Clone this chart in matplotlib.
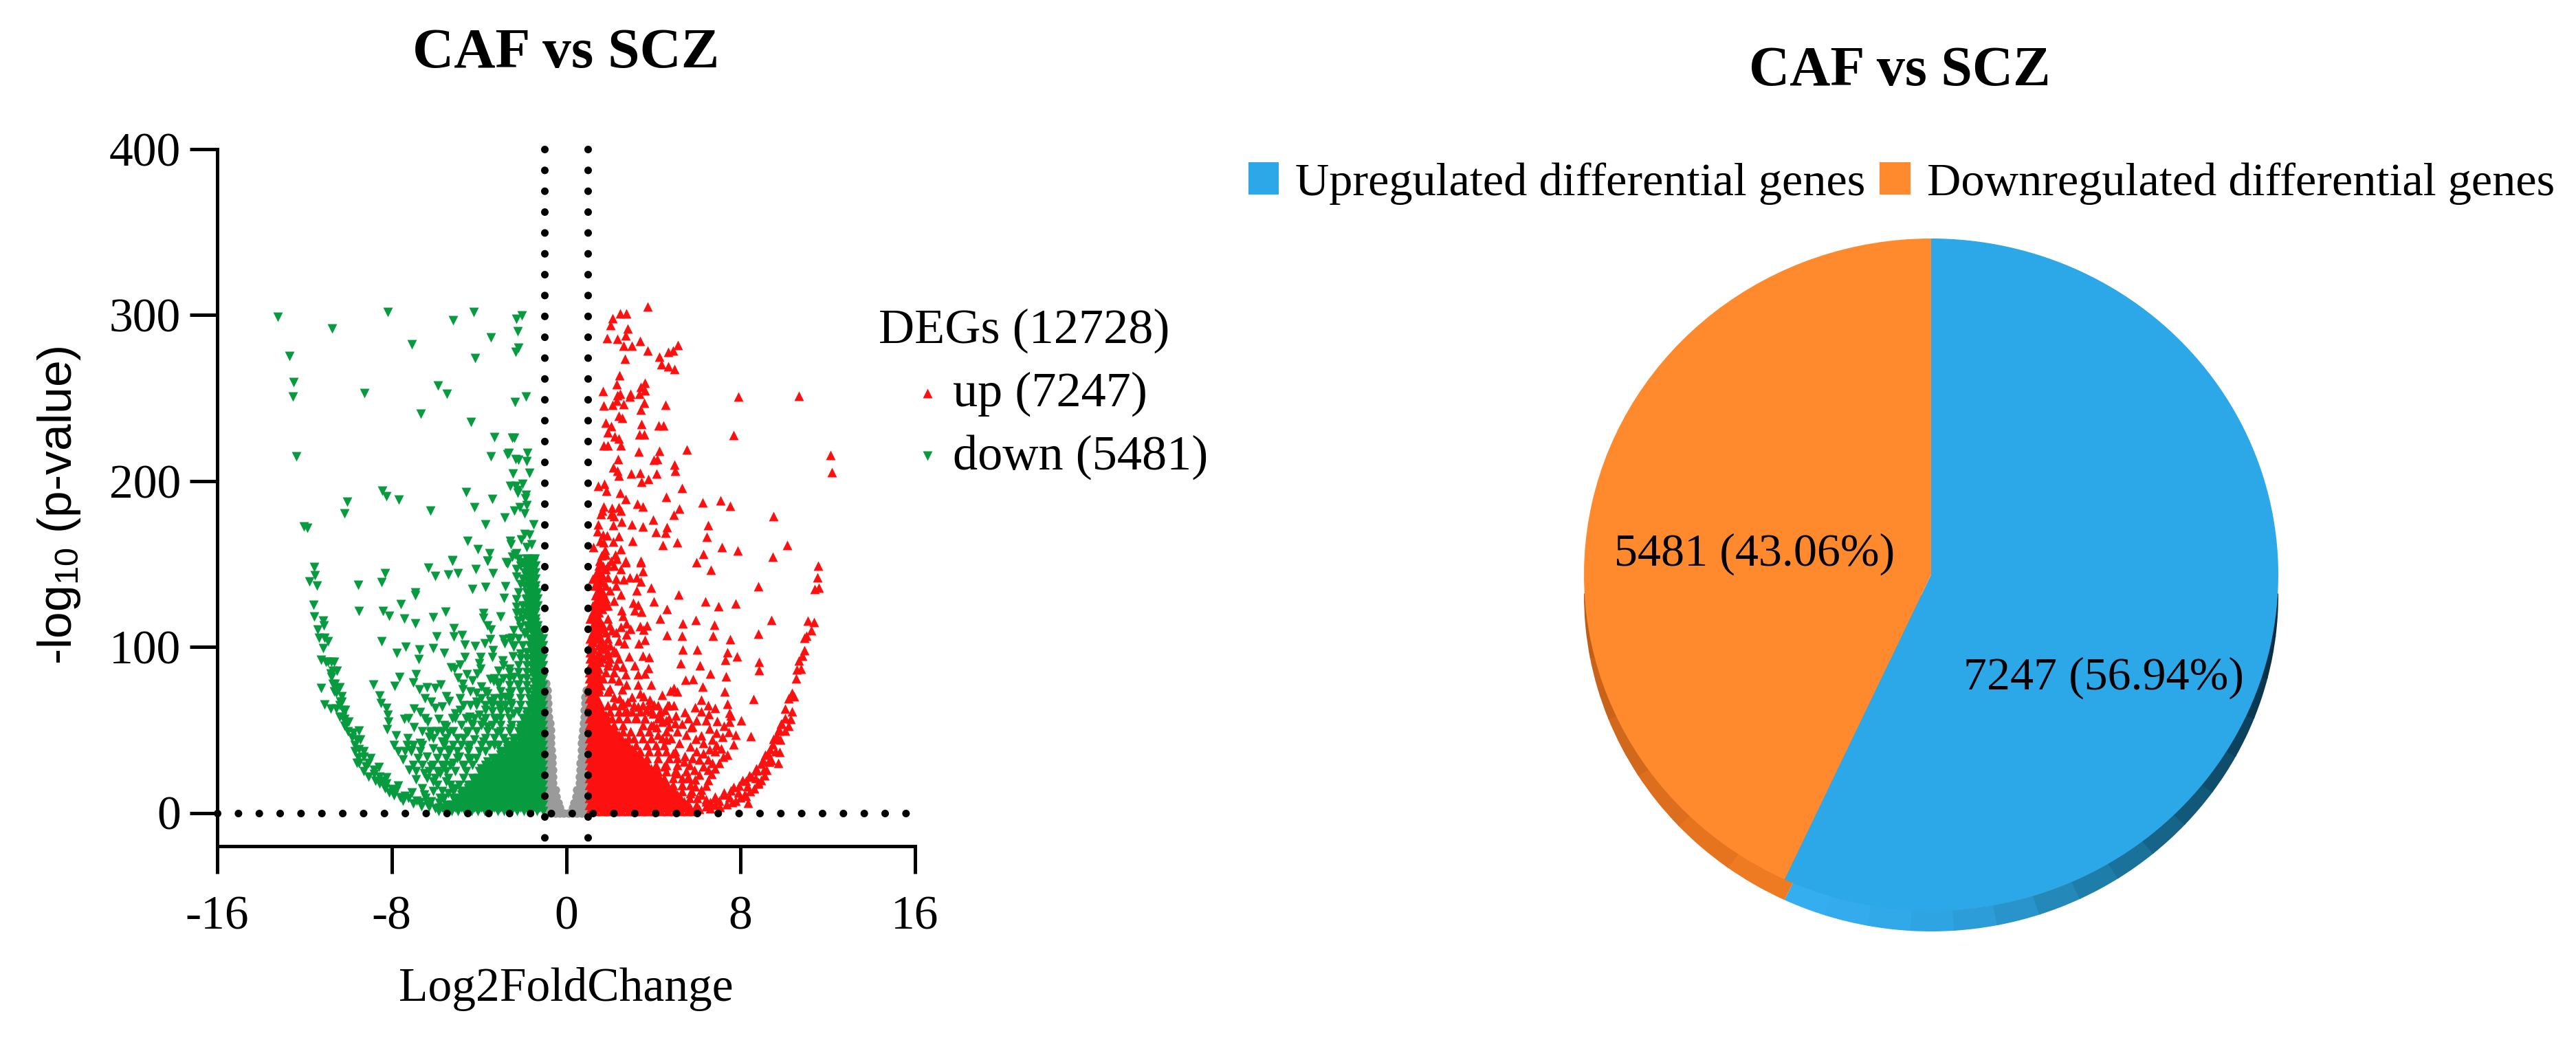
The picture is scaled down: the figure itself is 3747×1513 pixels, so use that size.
import matplotlib
matplotlib.use('Agg')
import matplotlib.pyplot as plt
from matplotlib.patches import Wedge

plt.rcParams['font.family'] = ['Liberation Serif']
plt.rcParams['mathtext.default'] = 'regular'

W, H = 3747, 1513

x_ticks = [-16, -8, 0, 8, 16]
x_tick_labels = ['-16', '-8', '0', '8', '16']
y_ticks = [0, 100, 200, 300, 400]
fc_cut = [-1, 1]
up_count = 7247
down_count = 5481
pie_labels = ['Upregulated differential genes', 'Downregulated differential genes']

# scattered up genes (log2fc, -log10p)
up_sparse = [(3.75,305.1),(2.46,301),(2.75,301),(2.12,298),(2.04,294),(2.83,291.8),(2.74,287.6),(1.88,286.2),
    (2.36,285.8),(3.40,284.4),(2.64,281.4),(3.01,281.4),(5.11,282),(4.90,278.6),(4.69,278),(3.75,278.6),
    (4.27,274.8),(2.71,273.5),(4.37,270.4),(4.67,269.2),(4.98,267.6),(2.45,263.7),(2.33,258.2),(3.62,259),
    (3.41,256.8),(3.62,254.8),(1.69,254.2),(2.46,252.7),(2.94,252.7),(3.35,252.4),(2.36,251.7),(2.93,251),
    (7.90,250.8),(10.67,251.3),(2.32,248.3),(3.59,247.2),(2.62,246.5),(2.12,245.8),(1.71,245.5),(4.55,245.8),
    (3.43,243.2),(2.41,239.3),(2.56,237.9),(1.82,235.2),(3.45,234.5),(2.06,233.1),(4.25,233.5),(4.46,233.5),
    (1.90,229.2),(3.37,228),(3.58,228.3),(7.68,227.6),(2.22,226.9),(2.42,225.5),(1.72,221.4),(1.90,221.4),
    (2.51,221.4),(3.32,217.6),(4.27,218.2),(5.53,218.9),(12.13,215.6),(2.37,213.1),(4.03,212.8),(4.17,213.1),
    (2.16,208.3),(4.95,210),(5.0,206.2),(12.19,205.5),(2.35,206.2),(2.40,203.4),(2.97,204.4),(3.40,205.1),
    (4.15,204.4),(3.45,199.7),(3.77,201),(1.47,197.2),(1.75,198.3),(1.83,194.2),(2.46,192.7),(5.30,195.8),
    (2.72,189.2),(4.59,190.3),(3.26,186.4),(3.52,184.5),(6.27,187.3),(7.09,188.5),(7.52,185.2),(1.73,184.8),
    (1.64,182.3),(1.58,179.9),(2.11,183.7),(2.06,179.9),(2.19,178.9),(2.40,184.1),(2.51,182),(5.19,183.4),
    (4.93,179.7),(9.49,178.9),(4.0,176.9),(1.47,173.8),(2.16,173.3),(2.53,175.6),(3.0,173.8),(3.5,172.7),
    (4.61,172.1),(6.52,173.5),(1.45,169.6),(4.11,169.3),(4.57,168.9),(1.68,167.5),(1.89,167.2),(2.41,166.9),
    (6.44,166.2),(1.56,163.7),(1.73,163.1),(2.15,163.4),(3.05,163.7),(4.43,161.3),(5.08,163),(10.15,161.3),
    (1.24,160.2),(1.77,158.6),(1.61,155.1),(1.82,155.8),(2.51,158.8),(2.24,155.8),(2.32,153),(7.14,160),
    (7.87,157.9),(6.30,156.1),(9.48,154.4),(1.54,151.7),(2.06,151.7),(2.74,151.7),(3.43,151.7),(5.98,151)]

up_mid = [(6.65,146.5),(11.56,149.2),(11.52,141.8),(11.58,135.8),(11.39,134.9),(8.8,136.5),(5.14,131.4),(6.39,127.5),
    (6.99,124.4),(7.76,126.2),(9.42,116.2),(11.08,115.8),(11.37,115.1),(11.25,110),(11.03,106.8),(10.93,105.5),
    (10.93,97.9),(10.82,94.8),(10.67,91.7),(10.77,86.8),(10.59,86.6),(10.54,81),(10.35,72.4),(10.46,70.3),
    (10.19,68.9),(10.03,62.7),(10.35,61.3),(10.3,56.5),(10.03,57.2),(9.8,36.7),(9.74,30.3),(9.33,31),
    (8.35,6.1),(8.24,10.3),(8.82,18.5),(4.3,117.2),(5.35,114.4),(5.95,116.1),(6.79,113.3),(4.61,107.3),
    (5.31,106.8),(6.74,106.8),(8.82,108),(7.53,104.5),(5.35,98.6),(6.01,98.3),(7.4,96.8),(7.85,94.4),
    (7.3,92.1),(8.85,91),(8.85,85.9),(5.26,90),(6.12,88.9),(6.6,84.1),(7.32,82.4),(5.47,80.4),(5.81,80.6),
    (6.25,76.2),(7.27,73.3),(8.59,68.6),(6.19,68.3),(7.4,65.9),(5.91,63.8),(6.52,64.8),(6.82,63.4),(6.19,61.3),
    (6.53,59.5),(7.5,60.3),(7.54,58.5),(6.4,55.8),(6.93,55.5),(8.01,55.8),(7.5,55.1),(7.24,52.3),(7.45,48.9),
    (6.56,51),(5.72,51.6),(5.98,55.8),(7.77,47.1),(8.45,46.1),(7.16,45.7),(6.88,48.2),(6.19,46.8),(5.93,44.7),
    (6.56,38.5),(6.82,37.2),(7.67,41.3),(7.4,35.1),(7.19,33.7),(7.03,30.3),(6.82,26.8),(6.66,23.4),(6.51,19.9),
    (6.4,16.5),(5.98,37.2),(6.09,32.3),(5.66,28.9),(5.87,26.1),(5.45,34.4),(2.72,151),(3.43,151),(3.5,145.5),
    (2.27,141.3),(2.64,140.7),(2.91,142),(3.22,142),(3.43,139.3),(3.9,135.8),(3.22,134),(2.5,131.7),(4.01,127.5),
    (3.06,126.6),(3.3,125.5),(3.14,122),(3.45,121.3),(4.63,123),(2.53,122),(2.61,118.6),(2.77,114.4),(2.95,111),
    (3.4,112.4),(3.72,113),(3.56,110.6),(3.61,104.4),(3.33,102.3),(2.77,107.5),(2.66,102),(3.5,94.7),(3.8,94),
    (2.87,94.4),(3.14,88.9),(3.77,87.3),(3.61,84.1),(3.3,83.7),(2.72,83.4),(2.77,77.2),(3.3,77.5),(3.9,77.5),
    (2.56,74.4),(4.93,75.1),(4.77,73.7),(5.09,73.3),(4.4,71),(3.56,70.3),(2.45,68.9),(2.82,66.8),(3.3,64.1),
    (3.82,68.2),(4.03,65.4),(3.66,62),(4.66,64.8),(4.93,64.8),(4.51,62),(5.45,60.9),(4.35,57.9),(5.03,58.5),
    (4.14,51.6),(5.3,53.7)]

# more of the loose triangles around the dense part
up_loose = [(4.4,55),(4.7,52),(5.1,49),(5.5,47),(4.6,44),(5.2,42),(5.7,40),(4.9,36),(5.4,31),(5.8,33),(4.5,28),(5.1,24),
    (5.6,22),(5.9,20),(5.3,17),(5.7,12),(6.0,9),(6.2,11),(6.2,14),(5.9,16),(6.1,23),(6.3,28),(6.5,32),(6.3,42),(6.7,44),
    (6.9,41),(7.1,39),(6.3,36),(6.7,30),(6.5,26),(4.2,47),(4.0,53),(3.2,58),(2.6,66),(2.2,70),(2.0,75),(2.4,80),(2.6,88),
    (2.2,98),(2.4,104),(2.1,110),(2.5,112),(1.9,125),(2.2,128),(2.0,134),(2.3,137),(1.9,142),(1.8,147),(2.5,147),(3.0,70),
    (3.4,72),(2.8,61),(3.6,57),(4.0,60),(4.6,56),(5.0,54),(5.6,57),(5.8,52)]

# the thin right-hand arc of the volcano
up_band = [(9.88,53.7),(9.85,53.7),(9.77,50.3),(9.67,46.1),(9.51,44.7),(9.35,38.5),(9.14,35.1),(8.93,29.6),(8.72,25.4),
    (8.51,22),(8.24,19.2),(7.93,16.5),(7.56,13.7),(7.24,10.9),(6.82,8.9),(6.4,6.8),(5.98,4.7),(6.4,8.2),(6.82,9.8),
    (7.24,12.3),(7.67,15.8),(8.09,19.9),(8.4,22.7),(8.72,26.8),(9.04,31.6),(9.25,35.8),(9.46,41.3),(9.61,45.4),
    (9.77,49.6),(6.4,4.1),(6.82,4.7),(7.35,5.4),(7.77,7.5),(8.19,11),(8.61,15),(8.93,19.9),(9.19,26.1),(9.4,31.6),
    (9.61,37.2),(9.82,44.1),(10.03,49.6),(10.19,52.3),(6.6,6.5),(7.0,7.5),(7.5,9.5),(7.9,12.5),(8.3,16),(8.7,21),
    (9.05,26),(9.3,31),(6.1,2.5),(6.6,2.8),(7.05,3.6),(7.6,6.4),(8.0,9.3),(8.42,13),(8.8,17.5),(9.1,22.5)]

# dense part of the up genes, row by row
up_rows_y = [1, 5, 9, 13, 17, 21, 25, 29, 33, 37, 41, 45, 49, 53, 57, 61, 65, 69, 73, 77, 81, 85, 89, 93, 97, 101,
    105, 109, 113, 117, 121, 125, 129, 133, 137, 141, 145, 149]
up_rows_x = [
    [1.05,1.35,1.65,1.95,2.25,2.55,2.85,3.15,3.45,3.75,4.05,4.35,4.65,4.95,5.25,5.55,5.85],
    [1.05,1.35,1.65,1.95,2.25,2.55,2.85,3.15,3.45,3.75,4.05,4.35,4.65,4.95,5.25,5.6],
    [1.05,1.35,1.65,1.95,2.25,2.55,2.85,3.15,3.45,3.75,4.05,4.35,4.65,4.95,5.25,5.65],
    [1.05,1.35,1.65,1.95,2.25,2.55,2.85,3.15,3.45,3.75,4.05,4.35,4.65,4.95,5.3,5.75],
    [1.05,1.35,1.65,1.95,2.25,2.55,2.85,3.15,3.45,3.75,4.05,4.35,4.65,4.9,5.3,5.7],
    [1.05,1.35,1.65,1.95,2.25,2.55,2.85,3.15,3.45,3.75,4.05,4.3,4.5,4.9,5.3,5.6],
    [1.05,1.35,1.65,1.95,2.25,2.55,2.85,3.15,3.45,3.75,4.05,4.2,4.6,5.0,5.5],
    [1.05,1.35,1.65,1.95,2.25,2.55,2.85,3.15,3.45,3.75,4.1,4.6,5.1],
    [1.05,1.35,1.65,1.95,2.25,2.55,2.85,3.15,3.45,3.7,4.2,4.7,5.1],
    [1.05,1.35,1.65,1.95,2.25,2.55,2.85,3.15,3.4,3.8,4.2,4.6,5.0],
    [1.05,1.35,1.65,1.95,2.25,2.55,2.85,3.2,3.7,4.1,4.5],
    [1.05,1.35,1.65,1.95,2.25,2.55,2.85,3.1,3.5,3.9,4.4,4.8],
    [1.05,1.35,1.65,1.95,2.25,2.6,2.95,3.4,3.8,4.6],
    [1.05,1.35,1.65,1.95,2.2,2.6,3.5,3.9],
    [1.05,1.35,1.65,1.9,2.1,2.4,2.8,3.2,3.6,4.2,4.7],
    [1.05,1.35,1.65,2.0,2.4,2.7,3.0,3.4,3.9,4.3],
    [1.05,1.35,1.6,1.9,2.2,2.5,3.1,3.5,3.8,4.2,4.7],
    [1.05,1.3,1.45],
    [1.05,1.3,1.5,1.9],
    [1.05,1.3,1.6],
    [1.05,1.35,1.7,2.1],
    [1.05,1.35,1.8,2.2],
    [1.1,1.4,1.9,2.3],
    [1.1,1.4,1.7,2.0,2.4],
    [1.1,1.5,1.9,2.3],
    [1.1,1.5,1.8,2.0],
    [1.1,1.35,1.6,1.9],
    [1.2,1.5,1.8,2.3],
    [1.2,1.4,1.7,2.0],
    [1.1,1.3,1.5,1.9],
    [1.2,1.5],
    [1.2,1.5,1.8],
    [1.5,1.8],
    [1.4,1.7],
    [1.3,1.5,1.8],
    [1.2,1.5],
    [1.4,1.6],
    [1.5,1.7,1.9,2.2],
]
# second pass between those rows, closes the gaps in the solid area
up_fill_y = [3, 7, 11, 15, 19, 23, 27, 31, 35, 39, 43, 47, 51, 55, 59, 63, 67, 71, 75, 79, 83, 87, 91, 95, 99, 103, 107,
    111, 115, 119, 123, 127, 131, 135, 139, 143, 147]
up_fill_x = [
    [1.2,1.5,1.8,2.1,2.4,2.7,3.0,3.3,3.6,3.9,4.2,4.5,4.8,5.1,5.4,5.7,6.0],
    [1.2,1.5,1.8,2.1,2.4,2.7,3.0,3.3,3.6,3.9,4.2,4.5,4.8,5.1,5.4],
    [1.2,1.5,1.8,2.1,2.4,2.7,3.0,3.3,3.6,3.9,4.2,4.5,4.8,5.1],
    [1.2,1.5,1.8,2.1,2.4,2.7,3.0,3.3,3.6,3.9,4.2,4.5,4.8],
    [1.2,1.5,1.8,2.1,2.4,2.7,3.0,3.3,3.6,3.9,4.2,4.5],
    [1.2,1.5,1.8,2.1,2.4,2.7,3.0,3.3,3.6,3.9,4.2],
    [1.2,1.5,1.8,2.1,2.4,2.7,3.0,3.3,3.6,3.9],
    [1.2,1.5,1.8,2.1,2.4,2.7,3.0,3.3,3.6],
    [1.2,1.5,1.8,2.1,2.4,2.7,3.0,3.3],
    [1.2,1.5,1.8,2.1,2.4,2.7,3.0],
    [1.2,1.5,1.8,2.1,2.4,2.7],
    [1.2,1.5,1.8,2.1,2.4],
    [1.2,1.5,1.8,2.1],
    [1.2,1.5,1.8],
    [1.2,1.5,1.8],
    [1.2,1.5],
    [1.2,1.5],
    [1.2],
    [1.2,1.5],
    [1.2,1.5],
    [1.2,1.5],
    [1.2,1.5],
    [1.25,1.55,1.95],
    [1.25,1.55,1.85],
    [1.25,1.7],
    [1.25,1.6],
    [1.25,1.5],
    [1.35,1.65],
    [1.3,1.55],
    [1.2,1.4],
    [1.35,1.65],
    [1.35,1.65],
    [1.35,1.65],
    [1.55],
    [1.4,1.65],
    [1.35,1.65],
    [1.5],
]

down_sparse = [(-13.24,298.9),(-8.19,301.7),(-10.73,291.8),(-5.20,296.9),(-4.25,301.7),(-2.30,297.5),(-2.02,299.8),
    (-2.21,290.4),(-3.46,286.5),(-7.09,282.4),(-12.69,275.5),(-4.17,274.2),(-2.33,278),(-2.18,280.3),(-12.49,259.7),
    (-12.52,251),(-9.24,252.8),(-5.88,257.5),(-5.47,252.7),(-1.83,250.8),(-2.34,247.6),(-6.67,240.6),(-4.37,235.6),
    (-3.3,226.6),(-2.49,226.2),(-2.39,226.2),(-12.37,214.9),(-3.44,214.9),(-2.63,216.8),(-2.7,216.3),(-1.79,217),
    (-2.33,213.1),(-2.2,212.7),(-1.81,212),(-2.44,204.4),(-1.7,205.1),(-2.57,197),(-2.31,197.2),(-2,198.3),
    (-2.23,194.5),(-2.21,192.7),(-1.86,191.7),(-1.89,189.6),(-8.44,194.2),(-8.23,191),(-7.69,188.7),(-4.6,193.3),
    (-3.38,189.2),(-10.04,187.6),(-10.17,180.4),(-6.23,182),(-4.2,184.4),(-2.39,182.3),(-2.14,184.4),(-1.81,185.5),
    (-1.91,180.6),(-2.83,177.9),(-12.02,172.4),(-11.86,171.7),(-3.7,173.8),(-1.49,173.8),(-4.51,163.7),(-4.04,158.9),
    (-2.57,164.1),(-2.54,162),(-2.07,164.8),(-1.91,168),(-1.7,167.5),(-1.6,162),(-1.81,160),(-3.51,156.5),
    (-2.49,154.4),(-2.28,156.5),(-5.23,152.4),(-3.6,152),(-2.75,151),(-1.75,153),(-1.44,153)]

down_mid = [(-11.57,148.3),(-11.52,143),(-11.79,139.3),(-11.44,136.8),(-9.55,137.5),(-8.32,144.4),(-8.47,138.9),
    (-6.31,147.6),(-6.02,142.7),(-5.42,143.7),(-4.95,144.4),(-5.22,152.1),(-4.16,146.9),(-3.6,152.1),(-3.36,144.5),
    (-4.31,135.1),(-3.71,136.2),(-2.78,136.5),(-2.28,142.3),(-2.7,150.3),(-2.34,155.8),(-6.92,132.7),(-6.92,131),
    (-2.84,129.6),(-2.3,128.9),(-1.86,128.9),(-11.6,125.5),(-9.5,121.6),(-8.41,121.6),(-8.13,118.6),(-7.57,125.8),
    (-7.44,116.9),(-6.93,114.4),(-6.1,117.9),(-5.53,121.3),(-11.57,118.2),(-11.15,115.8),(-11.1,113),(-11.39,110.3),
    (-11.34,105.5),(-11.08,105.5),(-10.92,103.4),(-11.13,99.3),(-8.47,103.4),(-3.79,120.6),(-3.81,117.5),(-3.6,113),
    (-3.02,118.3),(-2.28,120.6),(-2.18,115.8),(-5.16,111.3),(-5.16,106.4),(-4.78,107.1),(-5.94,106.4),(-3.44,110.3),
    (-4.65,101.3),(-4.19,100.6),(-3.73,102),(-3.49,104.8),(-2.88,104.5),(-2.81,102),(-2.49,105.5),(-7.37,100),
    (-7.77,96.2),(-6.74,98.3),(-6.76,92.6),(-6.11,99.3),(-5.6,96.5),(-4.65,93.7),(-3.36,97.9),(-3.91,94),(-2.44,94.4),
    (-4.86,89.2),(-5.28,87.5),(-5.13,86.8),(-3.91,86.8),(-4.07,84.1),(-3.39,93.7),(-2.92,91.9),(-2.6,86.8),(-3.12,85.5),
    (-7.65,82),(-6.89,83.4),(-7.02,78.6),(-7.86,76.5),(-8.83,77.2),(-11.25,75.1),(-4.97,81.3),(-4.55,83.4),(-4.76,77.9),
    (-5.76,77.2),(-6.39,75.8),(-6.02,75.1),(-6.74,74.4),(-3.34,79.3),(-3.49,80.6),(-3.07,78.6),(-2.23,77.2),(-2.6,72.3),
    (-4.13,72.3),(-4.76,74.4),(-8.57,70.7),(-8.5,66.1),(-8.23,63.4),(-8.18,59.2),(-8.16,55.1),(-8.2,50.3),(-11.08,65.4),
    (-10.81,62.7),(-10.55,62.7),(-6.49,68.9),(-6.18,66.8),(-6.02,63.4),(-5.49,70.3),(-5.39,67.5),(-4.86,68.9),(-5.7,64.1),
    (-4.13,66.8),(-3.49,67.5),(-4.86,62),(-6.97,62.7),(-6.71,60.6),(-7.44,56.5),(-7.23,57.2),(-6.49,57.2),(-5.86,56.5),
    (-5.23,57.2),(-6.97,51.6),(-6.34,55.1),(-4.44,57.8),(-3.71,62),(-2.97,64.8),(-2.55,66.1),(-4.34,53.7),(-3.81,55.1),
    (-5.39,48.2),(-4.55,48.2),(-6.23,48.2),(-7.81,46.5),(-7.28,45.2),(-3.18,48.2),(-2.55,51)]

down_loose = [(-4.2,44),(-4.5,40),(-4.9,34),(-5.3,38),(-5.7,43),(-6.1,39),(-6.4,34),(-6.2,28),(-5.8,24),(-5.5,19),(-5.1,15),
    (-5.4,12),(-5.8,9),(-6.2,7),(-6.6,15),(-6.9,20),(-7.2,26),(-7.5,32),(-7.7,37),(-7.9,41),(-6.7,42),(-6.3,46),(-3.6,52),
    (-3.2,57),(-4.0,59),(-4.7,65),(-5.1,60),(-5.5,52),(-5.9,49),(-6.6,49),(-7.1,38),(-6.5,24),(-6.1,19),(-6.5,11),(-5.2,30),
    (-5.6,28),(-4.7,28),(-4.4,32),(-3.8,43),(-3.3,41),(-2.8,43),(-2.4,60),(-2.8,70),(-2.4,82),(-2.1,96),(-2.4,100),
    (-1.9,108),(-2.1,112),(-2.4,110),(-2.3,124),(-2.2,133),(-2.1,138),(-2.3,147),(-3.6,72),(-3.9,76),(-4.3,80),(-4.0,90)]

# the thin left-hand arc
down_band = [(-11.23,92.4),(-10.92,91),(-10.76,91),(-10.71,85.5),(-10.76,82),(-10.6,77.9),(-10.5,74.4),(-10.55,72.3),
    (-10.29,66.8),(-10.23,62),(-10.18,56.5),(-10.07,53.7),(-9.76,48.2),(-9.6,44.1),(-9.5,38.5),(-9.29,33.7),(-9.07,30.3),
    (-8.81,26.1),(-8.55,22),(-8.23,17.8),(-7.81,13.7),(-7.39,10.4),(-6.86,7.5),(-6.34,5.4),(-5.81,3.3),(-5.81,6.1),
    (-6.44,8.9),(-7.07,12.3),(-7.71,16.5),(-8.23,21.3),(-8.6,27.5),(-8.97,33),(-9.29,37.2),(-9.44,44.1),(-9.5,49.6),
    (-9.97,55.1),(-10.13,62),(-10.29,70.3),(-10.39,75.8),(-10.5,85.5),(-10.65,91),(-6.02,2.6),(-6.65,4),(-7.5,7.5),
    (-8.13,12.3),(-8.55,17.8),(-9.07,22),(-9.5,30.3),(-9.71,37.2),(-9.81,45.4),(-10.18,52.3),(-10.39,57.8),(-10.39,64.8),
    (-10.65,73),(-10.71,77.9),(-10.81,84.1),(-11.02,91),(-6.3,3.8),(-7.0,5.8),(-7.6,9.5),(-8.0,14.5),(-8.4,19.5),(-8.8,23.5),
    (-9.2,28),(-9.55,33.5),(-9.7,41),(-10.0,49),(-10.25,58),(-10.35,67),(-6.7,6.5),(-7.25,9.2),(-7.9,10.5),(-8.3,15),
    (-8.75,19.5),(-9.3,25),(-9.6,30)]

down_rows_y = [1, 5, 9, 13, 17, 21, 25, 29, 33, 37, 41, 45, 49, 53, 57, 61, 65, 69, 73, 77, 81, 85, 89, 93, 97, 101,
    105, 109, 113, 117, 121, 125, 129, 133, 137, 141, 145, 149, 153]
down_rows_x = [
    [-1.05,-1.35,-1.65,-1.95,-2.25,-2.55,-2.85,-3.15,-3.45,-3.75,-4.05,-4.35,-4.65,-4.95,-5.25,-5.55,-5.85],
    [-1.05,-1.35,-1.65,-1.95,-2.25,-2.55,-2.85,-3.15,-3.45,-3.75,-4.05,-4.35,-4.65,-4.95,-5.25,-5.5],
    [-1.05,-1.35,-1.65,-1.95,-2.25,-2.55,-2.85,-3.15,-3.45,-3.75,-4.05,-4.35,-4.65,-4.95,-5.2,-5.6],
    [-1.05,-1.35,-1.65,-1.95,-2.25,-2.55,-2.85,-3.15,-3.45,-3.75,-4.05,-4.35,-4.65,-4.8,-5.2,-5.7,-6.1],
    [-1.05,-1.35,-1.65,-1.95,-2.25,-2.55,-2.85,-3.15,-3.45,-3.75,-4.05,-4.3,-4.5,-4.9,-5.3,-5.9],
    [-1.05,-1.35,-1.65,-1.95,-2.25,-2.55,-2.85,-3.15,-3.45,-3.75,-4.05,-4.3,-4.7,-5.4,-6.0,-6.4],
    [-1.05,-1.35,-1.65,-1.95,-2.25,-2.55,-2.85,-3.15,-3.45,-3.75,-4.0,-4.6,-5.1,-5.5,-5.9,-6.3,-6.9],
    [-1.05,-1.35,-1.65,-1.95,-2.25,-2.55,-2.85,-3.15,-3.45,-3.7,-4.3,-4.7,-5.3,-5.7,-6.1,-6.6,-7.0],
    [-1.05,-1.35,-1.65,-1.95,-2.25,-2.55,-2.85,-3.15,-3.4,-4.1,-4.5,-5.0,-5.5,-5.9,-6.8],
    [-1.05,-1.35,-1.65,-1.95,-2.25,-2.55,-2.8,-3.0,-3.7,-4.0,-4.5,-5.0,-5.4,-5.8,-6.7,-7.1,-7.4],
    [-1.05,-1.35,-1.65,-1.95,-2.25,-2.6,-3.1,-3.5,-3.9,-4.4,-4.8,-5.2,-5.6,-6.6,-7.0,-7.3],
    [-1.05,-1.35,-1.65,-1.95,-2.2,-2.4,-2.9,-3.3,-3.7,-4.7,-5.0,-5.5,-6.1],
    [-1.05,-1.35,-1.65,-1.95,-2.2,-2.6,-3.0,-3.6,-4.1,-4.5,-5.2,-5.7,-6.2],
    [-1.05,-1.35,-1.65,-1.9,-2.1,-2.5,-3.0,-3.4,-3.9,-4.3,-4.8,-5.6],
    [-1.05,-1.35,-1.65,-1.85,-2.0,-2.6,-3.0,-3.3,-3.7,-4.2,-4.6,-5.1],
    [-1.05,-1.35,-1.6,-1.8,-2.2,-2.7,-3.0,-3.4],
    [-1.05,-1.35,-1.7,-2.1,-2.5,-2.8,-3.1,-3.4,-3.7,-4.1,-4.4],
    [-1.05,-1.35,-1.7,-2.1,-2.6,-3.0,-3.3,-3.9],
    [-1.05,-1.35,-1.75,-2.1,-2.5,-3.0,-3.7,-4.4],
    [-1.05,-1.35,-1.8,-2.2,-2.6,-3.1],
    [-1.05,-1.35,-1.8,-2.1,-2.6,-2.9,-3.3],
    [-1.05,-1.35,-1.6,-1.8,-2.2,-2.6],
    [-1.05,-1.35,-1.6,-1.8,-2.2,-2.9],
    [-1.05,-1.35,-1.6,-1.8,-2.1],
    [-1.05,-1.35,-1.6,-1.8],
    [-1.05,-1.35,-1.7,-2.0,-2.4],
    [-1.05,-1.35,-1.7,-2.2,-2.6],
    [-1.2,-1.5,-1.8],
    [-1.3,-1.5,-1.8],
    [-1.4,-1.7,-2.0],
    [-1.4,-1.6,-1.9,-2.1],
    [-1.3,-1.5,-1.8,-2.0],
    [-1.3,-1.5,-1.8],
    [-1.3,-1.6,-1.8],
    [-1.4,-1.6,-1.9],
    [-1.4,-1.7,-2.0],
    [-1.4,-1.7,-1.9],
    [-1.4,-1.6,-1.9,-2.1],
    [-1.5,-1.8,-2.2],
]
down_fill_y = [3, 7, 11, 15, 19, 23, 27, 31, 35, 39, 43, 47, 51, 55, 59, 63, 67, 71, 75, 79, 83, 87, 91, 95, 99, 103, 107,
    111, 115, 119, 123, 127, 131, 135, 139, 143, 147, 151]
down_fill_x = [
    [-1.2,-1.5,-1.8,-2.1,-2.4,-2.7,-3.0,-3.3,-3.6,-3.9,-4.2,-4.5,-4.8,-5.1,-5.4,-5.7],
    [-1.2,-1.5,-1.8,-2.1,-2.4,-2.7,-3.0,-3.3,-3.6,-3.9,-4.2,-4.5,-4.8,-5.1],
    [-1.2,-1.5,-1.8,-2.1,-2.4,-2.7,-3.0,-3.3,-3.6,-3.9,-4.2,-4.5,-4.8],
    [-1.2,-1.5,-1.8,-2.1,-2.4,-2.7,-3.0,-3.3,-3.6,-3.9,-4.2,-4.5],
    [-1.2,-1.5,-1.8,-2.1,-2.4,-2.7,-3.0,-3.3,-3.6,-3.9,-4.2],
    [-1.2,-1.5,-1.8,-2.1,-2.4,-2.7,-3.0,-3.3,-3.6,-3.9],
    [-1.2,-1.5,-1.8,-2.1,-2.4,-2.7,-3.0,-3.3,-3.6,-3.9],
    [-1.2,-1.5,-1.8,-2.1,-2.4,-2.7,-3.0,-3.3,-3.6],
    [-1.2,-1.5,-1.8,-2.1,-2.4,-2.7,-3.0],
    [-1.2,-1.5,-1.8,-2.1,-2.4,-2.7],
    [-1.2,-1.5,-1.8,-2.1,-2.4],
    [-1.2,-1.5,-1.8,-2.1],
    [-1.2,-1.5,-1.8,-2.1],
    [-1.2,-1.5,-1.8],
    [-1.2,-1.5,-1.8],
    [-1.2,-1.5],
    [-1.2,-1.5],
    [-1.2,-1.5],
    [-1.2,-1.5],
    [-1.2,-1.5],
    [-1.2,-1.5],
    [-1.2,-1.5],
    [-1.2,-1.5],
    [-1.2,-1.5],
    [-1.2,-1.5],
    [-1.2,-1.5],
    [-1.2,-1.5],
    [-1.35,-1.65],
    [-1.4,-1.65],
    [-1.55,-1.85],
    [-1.5,-1.75],
    [-1.4,-1.65],
    [-1.4,-1.65],
    [-1.45,-1.7],
    [-1.5,-1.75],
    [-1.55,-1.85],
    [-1.55,-1.8],
    [-1.5,-1.75,-2.0],
]

# genes that did not pass the cut, grey funnel in the middle
ns_rows_y = [0, 3, 6, 10, 14, 18, 22, 26, 30, 34, 38, 42, 46, 50, 54, 58, 62, 66, 70, 74, 78]
ns_rows_x = [
    [-0.9,-0.7,-0.5,-0.3,-0.1,0.1,0.3,0.5,0.7,0.9],
    [-0.9,-0.7,-0.5,-0.3,0.3,0.5,0.7,0.9],
    [-0.9,-0.7,-0.5,-0.35,0.35,0.5,0.7,0.9],
    [-0.9,-0.75,-0.55,-0.45,0.45,0.55,0.75,0.9],
    [-0.9,-0.75,-0.55,-0.5,0.5,0.6,0.75,0.9],
    [-0.9,-0.75,-0.6,0.6,0.75,0.9],
    [-0.9,-0.75,-0.6,0.6,0.75,0.9],
    [-0.9,-0.75,-0.62,0.65,0.8,0.9],
    [-0.9,-0.75,-0.65,0.65,0.8,0.9],
    [-0.9,-0.8,-0.65,0.7,0.8,0.9],
    [-0.9,-0.8,-0.68,0.72,0.85,0.92],
    [-0.9,-0.8,-0.7,0.72,0.85,0.92],
    [-0.9,-0.8,-0.7,0.75,0.85,0.92],
    [-0.9,-0.8,-0.72,0.78,0.85,0.92],
    [-0.9,-0.8,-0.75,0.8,0.9],
    [-0.9,-0.8,0.82,0.9],
    [-0.9,-0.82,0.85,0.92],
    [-0.92,-0.85,0.88,0.94],
    [-0.92,-0.86,0.88,0.94],
    [-0.94,-0.88,0.92],
    [-0.94],
]

# rim colours, going round from the blue/orange boundary to the right edge
pie_side_shades_blue = ['#35aef0', '#33abec', '#31a8e8', '#2fa4e2', '#2c9dd8', '#2994cb', '#2489b9', '#1f7ea9',
                        '#1a7199', '#166589', '#125879', '#0f4d6b', '#0c425d', '#0a3850', '#083045', '#082b3e']
pie_side_shades_orange = ['#ee7a22', '#e6741f', '#dc6e1d', '#d2681c', '#c9631a', '#c05e19']


def flatten_rows(rows_y, rows_x):
    xs, ys = [], []
    for y, row in zip(rows_y, rows_x):
        for x in row:
            xs.append(x)
            ys.append(y)
    return xs, ys


def split_points(*groups):
    xs, ys = [], []
    for g in groups:
        for p in g:
            xs.append(p[0])
            ys.append(p[1])
    return xs, ys


fig = plt.figure(figsize=(W / 100, H / 100), dpi=100)

# volcano plot
ax = fig.add_axes([316 / W, 1 - 1231 / H, (1331 - 316) / W, (1231 - 217) / H])
ax.set_xlim(-16, 16)
ax.set_ylim(-20, 400)

ns_x, ns_y = flatten_rows(ns_rows_y, ns_rows_x)
ax.scatter(ns_x, ns_y, marker='o', s=80, color='#9a9a9a', linewidths=0, zorder=2)

up_x, up_y = flatten_rows(up_rows_y, up_rows_x)
fx, fy = flatten_rows(up_fill_y, up_fill_x)
bx, by = split_points(up_sparse, up_mid, up_loose, up_band)
ups = ax.scatter(up_x + fx + bx, up_y + fy + by, marker='^', s=100, color='#fd1010', linewidths=0, zorder=3,
                 label='up (%d)' % up_count)
dn_x, dn_y = flatten_rows(down_rows_y, down_rows_x)
fx, fy = flatten_rows(down_fill_y, down_fill_x)
bx, by = split_points(down_sparse, down_mid, down_loose, down_band)
downs = ax.scatter(dn_x + fx + bx, dn_y + fy + by, marker='v', s=100, color='#079a3f', linewidths=0, zorder=3,
                   label='down (%d)' % down_count)

# round dots, 30 px apart
dots = dict(color='black', lw=8.0, dash_capstyle='round', linestyle=(0, (0.001, 2.73)), zorder=4, clip_on=False)
for c in fc_cut:
    ax.plot([c, c], [400, -18], **dots)
ax.plot([-16, 16], [0, 0], **dots)

ax.spines['top'].set_visible(False)
ax.spines['right'].set_visible(False)
ax.spines['left'].set_linewidth(3.6)
ax.spines['bottom'].set_linewidth(3.6)
ax.set_xticks(x_ticks)
ax.set_xticklabels(x_tick_labels)
ax.set_yticks(y_ticks)
ax.tick_params(axis='both', length=29, width=3.6, labelsize=50)
ax.tick_params(axis='x', pad=23)
ax.tick_params(axis='y', pad=9)
ax.set_xlabel('Log2FoldChange', fontsize=50)
ax.xaxis.set_label_coords(0.5, -0.174)
ax.set_ylabel('-log$_{10}$ (p-value)', fontsize=50, family='Liberation Sans')
ax.yaxis.set_label_coords(-0.193, 0.489)
ax.set_title('CAF vs SCZ', fontsize=60, fontweight='bold', pad=86)

leg = ax.legend(handles=[ups, downs], title='DEGs (%d)' % (up_count + down_count), fontsize=52, title_fontsize=52,
                loc='upper left', bbox_to_anchor=(1278 / W, 1 - 449 / H), bbox_transform=fig.transFigure,
                frameon=False, borderpad=0, borderaxespad=0, labelspacing=0.355, handletextpad=-0.47,
                handlelength=1.97, alignment='left', scatterpoints=1)

# 3D looking pie: flat wedges over a darker rim dropped below them
pie = fig.add_axes([2304 / W, 1 - 1355 / H, 1010 / W, 1008 / H])
depth = 30 / 489
total = up_count + down_count
split = 90 - 360 * up_count / total
n = len(pie_side_shades_blue)
step = -split / n
for i in range(n):
    pie.add_patch(Wedge((0, -depth), 1, split + i * step, split + (i + 1) * step + 0.3,
                        color=pie_side_shades_blue[i], lw=0))
n = len(pie_side_shades_orange)
step = (split + 360 - 180) / n
for i in range(n):
    pie.add_patch(Wedge((0, -depth), 1, split + 360 - (i + 1) * step - 0.3, split + 360 - i * step,
                        color=pie_side_shades_orange[i], lw=0))
wedges, _ = pie.pie([up_count, down_count], colors=['#2ca8e8', '#ff8a2e'], startangle=90, counterclock=False,
                    radius=1, frame=False)
pie.set_aspect('auto')
pie.set_xlim(-1, 1)
pie.set_ylim(-1 - depth, 1)

fig.legend(wedges, pie_labels, ncol=2, fontsize=49.2, loc='upper left', bbox_to_anchor=(1816 / W, 1 - 236 / H),
           frameon=False, borderpad=0, borderaxespad=0, handlelength=0.65, handleheight=0.68, handletextpad=0.35,
           columnspacing=0.3)

fig.text(2763 / W, 1 - 124 / H, 'CAF vs SCZ', fontsize=59, fontweight='bold', ha='center', va='baseline')
fig.text(2552 / W, 1 - 823 / H, '%d (%.2f%%)' % (down_count, 100 * down_count / total), fontsize=49, ha='center', va='baseline')
fig.text(3060 / W, 1 - 1003 / H, '%d (%.2f%%)' % (up_count, 100 * up_count / total), fontsize=49, ha='center', va='baseline')

fig.savefig('out.png', dpi=100, facecolor='white')
